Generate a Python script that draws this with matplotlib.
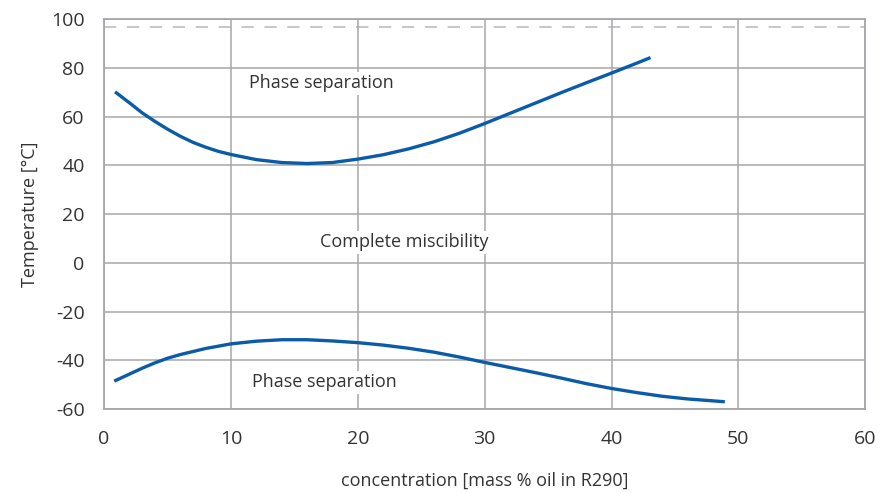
import matplotlib
matplotlib.use("Agg")
import matplotlib.pyplot as plt

plt.rcParams['font.family'] = ['Open Sans', 'DejaVu Sans']
plt.rcParams['axes.unicode_minus'] = False

# upper miscibility boundary
upper_x = [0.97, 2, 3, 4, 5, 6, 7, 8, 9, 10, 12, 14, 16, 18, 20, 22, 24, 26, 28,
           30, 32, 34, 36, 38, 40, 42, 42.95]
upper_y = [69.8, 65.7, 61.6, 58.1, 54.9, 52.0, 49.5, 47.5, 45.8, 44.5, 42.4, 41.2,
           40.8, 41.2, 42.6, 44.4, 46.8, 49.7, 53.2, 57.2, 61.4, 65.6, 69.8, 73.9,
           77.9, 82, 84]

# lower miscibility boundary
lower_x = [0.92, 2, 3, 4, 5, 6, 8, 10, 12, 14, 16, 18, 20, 22, 24, 26, 28, 30,
           32, 34, 36, 38, 40, 42, 44, 46, 48.8]
lower_y = [-48.2, -45.6, -43.2, -41.0, -39.1, -37.6, -35.1, -33.2, -32.1, -31.5,
           -31.5, -32.0, -32.7, -33.7, -35.0, -36.6, -38.6, -40.8, -42.9, -45.0,
           -47.2, -49.5, -51.5, -53.2, -54.7, -55.8, -56.9]

critical_temp = 97
x_ticks = [0, 10, 20, 30, 40, 50, 60]
y_ticks = [-60, -40, -20, 0, 20, 40, 60, 80, 100]

grid_col = '#a7a7ab'
line_col = '#0a5ba8'
text_col = '#333333'

fig, ax = plt.subplots(figsize=(8.82, 4.93), dpi=100)
fig.subplots_adjust(left=0.118, right=0.981, top=0.961, bottom=0.17)

ax.set_xlim(0, 60)
ax.set_ylim(-60, 100)
ax.set_xticks(x_ticks)
ax.set_yticks(y_ticks)
ax.grid(True, color=grid_col, linewidth=1.1, zorder=0)
for s in ax.spines.values():
    s.set_color(grid_col)
    s.set_linewidth(1.3)
ax.tick_params(length=0, labelsize=14, colors=text_col)
ax.tick_params(axis='x', pad=15)
ax.tick_params(axis='y', pad=14)

ax.axhline(critical_temp, color='#b8b8b8', linewidth=1.1, dashes=(8, 7), zorder=1)

ax.plot(upper_x, upper_y, color=line_col, linewidth=2.4, zorder=3)
ax.plot(lower_x, lower_y, color=line_col, linewidth=2.4, zorder=3)

box = dict(facecolor='white', edgecolor='none', pad=2)
ax.text(17.1, 73.7, 'Phase separation', ha='center', va='center', fontsize=13,
        color=text_col, bbox=box, zorder=2)
ax.text(23.7, 8.5, 'Complete miscibility', ha='center', va='center', fontsize=13,
        color=text_col, bbox=box, zorder=2)
ax.text(17.4, -49, 'Phase separation', ha='center', va='center', fontsize=13,
        color=text_col, bbox=box, zorder=2)

ax.set_xlabel('concentration [mass % oil in R290]', fontsize=13, color=text_col, labelpad=17)
ax.set_ylabel('Temperature [°C]', fontsize=13, color=text_col, labelpad=9)

fig.savefig('out.png', dpi=100)
